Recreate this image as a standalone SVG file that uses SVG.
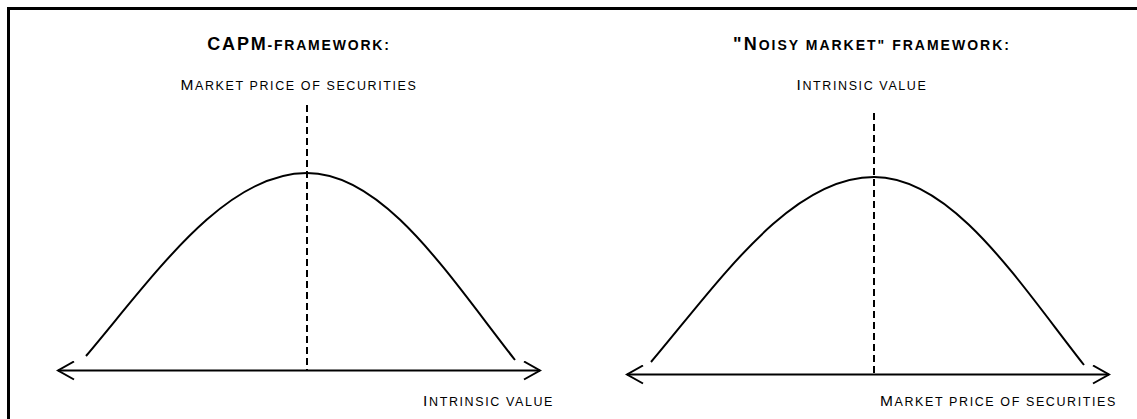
<svg xmlns="http://www.w3.org/2000/svg" width="1137" height="419" viewBox="0 0 1137 419">
<style>
.lbl{font-family:"Liberation Sans",Arial,sans-serif;font-size:12.5px;letter-spacing:1.6px;fill:#000}
.lbl .big{font-size:15.5px}
.ttl{font-family:"Liberation Sans",Arial,sans-serif;font-size:14px;font-weight:bold;letter-spacing:1.8px;fill:#000}
.ttl .big{font-size:18px}
.curve{fill:none;stroke:#000;stroke-width:2}
.axis{fill:none;stroke:#000;stroke-width:2}
.dash{fill:none;stroke:#000;stroke-width:2;stroke-dasharray:7 4}
</style>
<defs>
<marker id="arr" viewBox="0 0 20 20" refX="18" refY="10" markerWidth="20" markerHeight="20" markerUnits="userSpaceOnUse" orient="auto-start-reverse">
<path d="M2,1 L18,10 L2,19" fill="none" stroke="#000" stroke-width="2"/>
</marker>
</defs>
<rect x="8.5" y="8.5" width="1140" height="420" fill="#fff" stroke="#000" stroke-width="3"/>
<g id="capm">
<text class="ttl" x="299" y="50" text-anchor="middle"><tspan class="big">CAPM</tspan>-FRAMEWORK:</text>
<text class="lbl" x="299" y="90" text-anchor="middle"><tspan class="big">M</tspan>ARKET PRICE OF SECURITIES</text>
<text class="lbl" x="554" y="406" text-anchor="end"><tspan class="big">I</tspan>NTRINSIC VALUE</text>
<path class="curve" d="M86,356 C156,273 225,173 307,173 C384,173 449,276 515,360"/>
</g>
<g id="noisy">
<text class="ttl" x="872" y="50" text-anchor="middle" style="letter-spacing:2px"><tspan class="big">"N</tspan>OISY MARKET" FRAMEWORK:</text>
<text class="lbl" x="862" y="90" text-anchor="middle"><tspan class="big">I</tspan>NTRINSIC VALUE</text>
<text class="lbl" x="1117" y="406" text-anchor="end"><tspan class="big">M</tspan>ARKET PRICE OF SECURITIES</text>
<path class="curve" d="M651,362 C721,279 791,177 874,177 C952,177 1018,281 1084,365"/>
</g>
<g id="connectors">
<line class="axis" x1="58" y1="370.5" x2="540" y2="370.5" marker-start="url(#arr)" marker-end="url(#arr)"/>
<line class="dash" x1="307" y1="105" x2="307" y2="370"/>
<line class="axis" x1="627" y1="374.5" x2="1109" y2="374.5" marker-start="url(#arr)" marker-end="url(#arr)"/>
<line class="dash" x1="874" y1="113" x2="874" y2="374"/>
</g>
</svg>
